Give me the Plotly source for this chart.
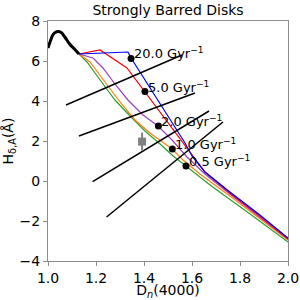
import plotly.graph_objects as go

# ---- data ----
base_x = [1.0, 1.01, 1.02, 1.03, 1.042, 1.055, 1.07, 1.09, 1.11, 1.129]
base_y = [6.65, 7.0, 7.3, 7.42, 7.47, 7.42, 7.2, 6.85, 6.6, 6.35]

blue_x = [1.129, 1.333, 1.346, 1.404, 1.458, 1.517, 1.571, 1.600, 1.654, 1.758, 1.883, 2.0]
blue_y = [6.35, 6.45, 6.15, 5.05, 4.05, 2.95, 1.9, 1.25, 0.45, -0.55, -1.7, -2.85]

red_x = [1.129, 1.217, 1.329, 1.404, 1.467, 1.529, 1.592, 1.654, 1.758, 1.883, 2.0]
red_y = [6.35, 6.55, 5.65, 4.45, 3.45, 2.4, 1.4, 0.45, -0.6, -1.75, -2.9]

purple_x = [1.129, 1.1875, 1.229, 1.279, 1.333, 1.396, 1.458, 1.517, 1.575, 1.654, 1.758, 1.883, 2.0]
purple_y = [6.35, 6.15, 5.65, 4.85, 4.05, 3.3, 2.75, 2.05, 1.25, 0.35, -0.65, -1.8, -2.9]

orange_x = [1.129, 1.175, 1.2375, 1.3, 1.3625, 1.425, 1.471, 1.517, 1.5625, 1.633, 1.758, 1.883, 2.0]
orange_y = [6.35, 5.95, 4.95, 3.95, 3.05, 2.4, 2.0, 1.6, 1.05, 0.35, -0.75, -1.9, -2.95]

green_x = [1.129, 1.1625, 1.217, 1.279, 1.342, 1.404, 1.467, 1.521, 1.575, 1.675, 1.842, 2.0]
green_y = [6.35, 5.95, 5.05, 4.05, 3.25, 2.5, 1.85, 1.25, 0.75, -0.2, -1.65, -3.05]

seg_x0 = [1.075, 1.129, 1.186, 1.244]
seg_y0 = [3.8, 2.25, -0.03, -1.8]
seg_x1 = [1.558, 1.6125, 1.671, 1.729]
seg_y1 = [6.3, 4.4, 3.5, 2.95]

dot_x = [1.346, 1.404, 1.46, 1.518, 1.575]
dot_y = [6.13, 4.47, 2.75, 1.6, 0.75]
dot_labels = ["20.0", "5.0", "2.0", "1.0", "0.5"]

obs_x = [1.392]
obs_y = [1.97]
obs_err = [0.45]

x_ticks = [1.0, 1.2, 1.4, 1.6, 1.8, 2.0]
y_ticks = [-4, -2, 0, 2, 4, 6, 8]

FONT = "DejaVu Sans"

fig = go.Figure()

track_list = [
    (green_x, green_y, "#2ca02c"),
    (orange_x, orange_y, "#ff7f0e"),
    (purple_x, purple_y, "#9b3fbf"),
    (red_x, red_y, "#ff0000"),
    (blue_x, blue_y, "#0000ff"),
]
for tx, ty, col in track_list:
    fig.add_trace(go.Scatter(x=tx, y=ty, mode="lines",
                             line=dict(color=col, width=1.2), showlegend=False))

fig.add_trace(go.Scatter(x=base_x, y=base_y, mode="lines",
                         line=dict(color="black", width=3, shape="spline"),
                         showlegend=False))

for i in range(len(seg_x0)):
    fig.add_trace(go.Scatter(x=[seg_x0[i], seg_x1[i]], y=[seg_y0[i], seg_y1[i]],
                             mode="lines", line=dict(color="black", width=1.5),
                             showlegend=False))

fig.add_trace(go.Scatter(x=dot_x, y=dot_y, mode="markers",
                         marker=dict(color="black", size=7), showlegend=False))

fig.add_trace(go.Scatter(x=obs_x, y=obs_y, mode="markers",
                         marker=dict(color="#808080", size=8, symbol="square"),
                         error_y=dict(type="data", array=obs_err, color="#808080",
                                      thickness=2, width=0),
                         showlegend=False))

for x, y, lab in zip(dot_x, dot_y, dot_labels):
    fig.add_annotation(x=x, y=y, text=f"{lab} Gyr<sup>−1</sup>", showarrow=False,
                       xanchor="left", yanchor="bottom", xshift=1, yshift=-5,
                       font=dict(family=FONT, size=13, color="black"))

axis_common = dict(showline=True, mirror=True, linecolor="#8c8c8c", linewidth=1.3,
                   ticks="outside", ticklen=4, tickcolor="#8c8c8c", showgrid=False,
                   zeroline=False, automargin=False,
                   tickfont=dict(family=FONT, size=14, color="black"))

fig.update_layout(
    width=300, height=300,
    margin=dict(l=48, r=12, t=21, b=39),
    plot_bgcolor="white", paper_bgcolor="white",
    title=dict(text="Strongly Barred Disks", x=0.5, xref="paper", xanchor="center",
               y=0.965, yanchor="middle", yref="container", automargin=False,
               font=dict(family=FONT, size=14, color="black")),
    xaxis=dict(range=[1.0, 2.0], tickvals=x_ticks,
               ticktext=[f"{v:.1f}" for v in x_ticks],
               title=dict(text="D<sub><i>n</i></sub>(4000)", standoff=2,
                          font=dict(family=FONT, size=14, color="black")),
               **axis_common),
    yaxis=dict(range=[-4, 8], tickvals=y_ticks,
               ticktext=[str(v).replace("-", "−") for v in y_ticks],
               title=dict(text="H<sub>δ,A</sub>(Å)", standoff=2,
                          font=dict(family=FONT, size=14, color="black")),
               **axis_common),
)

fig.write_html("out.html", config={"displayModeBar": False},
               post_script="document.body.style.margin='0';document.body.style.padding='0';")
